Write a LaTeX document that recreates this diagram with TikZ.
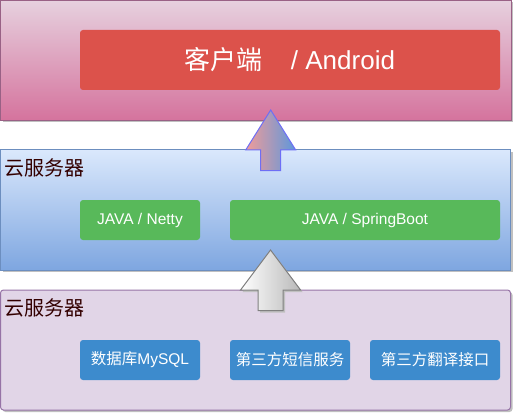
\documentclass[tikz,border=0pt]{standalone}
\usepackage{fontspec}
\setmainfont{Liberation Sans}
\newfontfamily\cjk{Noto Sans CJK SC}
\usetikzlibrary{positioning,shadows}
\definecolor{cliTop}{HTML}{E6D0DE}
\definecolor{cliBot}{HTML}{D5739D}
\definecolor{cliLine}{HTML}{996185}
\definecolor{srvTop}{HTML}{DAE8FC}
\definecolor{srvBot}{HTML}{7EA6E0}
\definecolor{srvLine}{HTML}{6C8EBF}
\definecolor{baseFill}{HTML}{E1D5E7}
\definecolor{baseLine}{HTML}{9673A6}
\definecolor{andRed}{HTML}{DC524B}
\definecolor{javaGreen}{HTML}{58B95A}
\definecolor{extBlue}{HTML}{3D8BCD}
\definecolor{tagRed}{HTML}{330000}
\definecolor{upLine}{HTML}{6E6EF5}
\definecolor{upL}{HTML}{F19C99}
\definecolor{upR}{HTML}{5C97DC}
\definecolor{grayLine}{HTML}{808080}
\definecolor{shadowGray}{HTML}{C0C0C0}

\begin{document}
\begin{tikzpicture}
  [x=1pt,y=-1pt,
   layerN/.style={rectangle,line width=1pt,minimum height=120pt,anchor=north west,
     outer sep=0pt,inner sep=0pt,
     drop shadow={shadow xshift=2pt,shadow yshift=-2pt,fill=shadowGray,opacity=1}},
   boxN/.style={rectangle,rounded corners=3pt,text=white,minimum height=40pt,
     anchor=north west,outer sep=0pt,inner sep=0pt,
     font=\fontsize{15.5pt}{18pt}\selectfont},
   tagN/.style={anchor=west,text=tagRed,inner sep=0pt,
     font=\cjk\fontsize{20pt}{24pt}\selectfont},
   node distance=30pt]

  \useasboundingbox (0,0) rectangle (513,414);

  % three layers
  \node[layerN,draw=cliLine,top color=cliTop,bottom color=cliBot,
        minimum width=511pt] (cli) at (0.5,0.5) {};
  \node[layerN,draw=srvLine,top color=srvTop,bottom color=srvBot,
        minimum width=510pt] (srv) at (0.5,150) {};
  \node[layerN,draw=baseLine,fill=baseFill,rounded corners=3pt,
        minimum width=510pt] (base) at (0.5,290) {};

  \node[tagN] (srvL) at (4,168) {云服务器};
  \node[tagN] (baseL) at (4,308) {云服务器};

  % client
  \node[boxN,fill=andRed,minimum width=420pt,minimum height=60pt,
        font=\fontsize{26pt}{30pt}\selectfont] (and) at (80,30)
        {{\cjk 客户端}\hspace{28pt}/ Android};

  % server
  \node[boxN,fill=javaGreen,minimum width=120pt] (net) at (80,200) {JAVA / Netty};
  \node[boxN,fill=javaGreen,minimum width=270pt] (spr) [right=of net] {JAVA / SpringBoot};

  % services
  \node[boxN,fill=extBlue,minimum width=120pt] (db) at (80,340) {{\cjk 数据库}MySQL};
  \node[boxN,fill=extBlue,minimum width=120pt] (sms) [right=of db] {\cjk 第三方短信服务};
  \node[boxN,fill=extBlue,minimum width=130pt] (tr) [right=20pt of sms] {\cjk 第三方翻译接口};

  % block arrows
  \coordinate (upA) at (270.7,110);
  \coordinate (upB) at (270.5,250);

  \draw[line width=1pt,draw=upLine,left color=upL,right color=upR]
    (upA) -- ++(25,40) -- ++(-15,0) -- ++(0,20.7) -- ++(-20,0)
    -- ++(0,-20.7) -- ++(-15,0) -- cycle;

  \draw[line width=1pt,draw=grayLine,left color=white,right color=gray!55,
        drop shadow={shadow xshift=2pt,shadow yshift=-2pt,fill=shadowGray,opacity=1}]
    (upB) -- ++(30,40) -- ++(-17.5,0) -- ++(0,20.7) -- ++(-25,0)
    -- ++(0,-20.7) -- ++(-17.5,0) -- cycle;

\end{tikzpicture}
\end{document}
